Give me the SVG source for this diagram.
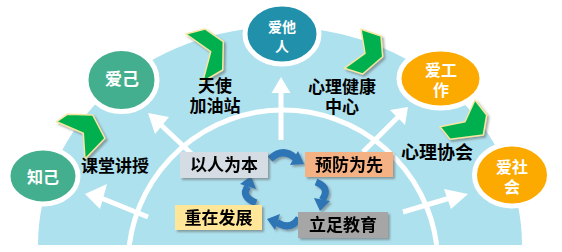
<svg xmlns="http://www.w3.org/2000/svg" width="562" height="252" viewBox="0 0 562 252">
<defs>
<style>
.lbl{font-family:"Noto Sans CJK SC","Liberation Sans",sans-serif;font-weight:bold;fill:#000;text-anchor:middle}
.nt{font-family:"Noto Sans CJK SC","Liberation Sans",sans-serif;font-weight:bold;fill:#fff;text-anchor:middle;font-size:16px}
.node{stroke:#fff;stroke-width:5}
.chev{fill:#00b050;stroke:#f6e6a0;stroke-width:1.5;stroke-linejoin:round}
.warrow{fill:#fff}
.wshaft{stroke:#fff;stroke-width:5;fill:none}
.barrow{fill:#2e75b6}
.bshaft{stroke:#2e75b6;stroke-width:7;fill:none}
.box{stroke:none}
</style>
<filter id="sh" x="-20%" y="-20%" width="150%" height="150%">
<feDropShadow dx="2" dy="2" stdDeviation="1" flood-color="#555" flood-opacity="0.5"/>
</filter>
</defs>
<rect width="562" height="252" fill="#fff"/>
<g id="fan">
<path d="M38 245 A242 218 0 0 1 522 245 Z" fill="#aee1ee"/>
<path d="M129.3 245 A155 155 0 0 1 436.7 245" fill="none" stroke="#fff" stroke-width="5"/>
</g>
<g id="connectors">
<line class="wshaft" x1="281" y1="140" x2="281" y2="90"/>
<polygon class="warrow" points="281,77 271.5,93 290.5,93"/>
<line class="wshaft" x1="196" y1="158" x2="160" y2="124"/>
<polygon class="warrow" points="148,113 169,117 155,134"/>
<line class="wshaft" x1="363" y1="152" x2="399" y2="116"/>
<polygon class="warrow" points="408,107 390,110 405,125"/>
<line class="wshaft" x1="148" y1="217" x2="101" y2="198"/>
<polygon class="warrow" points="85,194 107,184 100,209"/>
<line class="wshaft" x1="403" y1="212" x2="450" y2="198"/>
<polygon class="warrow" points="468,194 444,189 451,209"/>
<g filter="url(#sh)">
<path class="bshaft" d="M270 159 Q283 147 295 158"/>
<polygon class="barrow" points="304,164 298,151 290,165"/>
<path class="bshaft" d="M316 182 Q331 188 322 200"/>
<polygon class="barrow" points="320,211 330,201 314,198"/>
<path class="bshaft" d="M299 218 Q291 231 277 222.5"/>
<polygon class="barrow" points="267,219 280,214 275,230"/>
<path class="bshaft" d="M256 203 Q240 196 248 186.5"/>
<polygon class="barrow" points="251,176 256,189 240,184"/>
</g>
</g>
<g id="chevrons" filter="url(#sh)">
<polygon class="chev" points="56.7,121.7 67.3,114.3 92.7,115 105,138.3 85,159 83.3,133.3"/>
<polygon class="chev" points="186,34 205,29 223.3,41.7 222.7,70 202.7,81.7 210.7,51.7"/>
<polygon class="chev" points="361,29.3 381,36 382.7,56.7 362.7,74 344.3,68.3 365,53.3"/>
<polygon class="chev" points="475,100 486.7,115 483.3,135 450,139.3 440,126.7 465,121.7"/>
</g>
<g id="n-zhiji">
<ellipse class="node" cx="43" cy="176" rx="35" ry="28" fill="#44af8e"/>
<text class="nt" x="43" y="183">知己</text>
</g>
<g id="n-aiji">
<ellipse class="node" cx="121.5" cy="80" rx="35.5" ry="31.5" fill="#44af8e"/>
<text class="nt" x="122" y="85" style="font-size:17px">爱己</text>
</g>
<g id="n-aitaren">
<ellipse class="node" cx="282" cy="34" rx="37" ry="30" fill="#2191ab"/>
<text class="nt" x="282" y="32" style="font-size:14px">爱他</text>
<text class="nt" x="282" y="51" style="font-size:14px">人</text>
</g>
<g id="n-aigongzuo">
<ellipse class="node" cx="440.5" cy="78.5" rx="41.5" ry="29.5" fill="#fcaa00"/>
<text class="nt" x="441" y="76">爱工</text>
<text class="nt" x="441" y="96">作</text>
</g>
<g id="n-aishehui">
<ellipse class="node" cx="512" cy="175" rx="37.5" ry="31" fill="#fcaa00"/>
<text class="nt" x="512" y="173">爱社</text>
<text class="nt" x="512" y="193">会</text>
</g>
<g id="l-ketang"><text class="lbl" x="115" y="172" font-size="17">课堂讲授</text></g>
<g id="l-tianshi"><text class="lbl" x="215" y="92" font-size="17">天使</text><text class="lbl" x="215" y="112" font-size="17">加油站</text></g>
<g id="l-xinli"><text class="lbl" x="342" y="93" font-size="17">心理健康</text><text class="lbl" x="342" y="113" font-size="17">中心</text></g>
<g id="l-xiehui"><text class="lbl" x="437" y="159" font-size="18">心理协会</text></g>
<g id="b-yiren" filter="url(#sh)">
<rect class="box" x="180" y="152" width="88" height="26" fill="#d6dce4"/>
<text class="lbl" x="224" y="171" font-size="17">以人为本</text>
</g>
<g id="b-yufang" filter="url(#sh)">
<rect class="box" x="305" y="152" width="88" height="25" fill="#f4b183"/>
<text class="lbl" x="349" y="171" font-size="17">预防为先</text>
</g>
<g id="b-zhongzai" filter="url(#sh)">
<rect class="box" x="175" y="205" width="87" height="25" fill="#ffe699"/>
<text class="lbl" x="218.5" y="224" font-size="17">重在发展</text>
</g>
<g id="b-lizu" filter="url(#sh)">
<rect class="box" x="298" y="212" width="90" height="26" fill="#a6a6a6"/>
<text class="lbl" x="343" y="231" font-size="17">立足教育</text>
</g>
</svg>
